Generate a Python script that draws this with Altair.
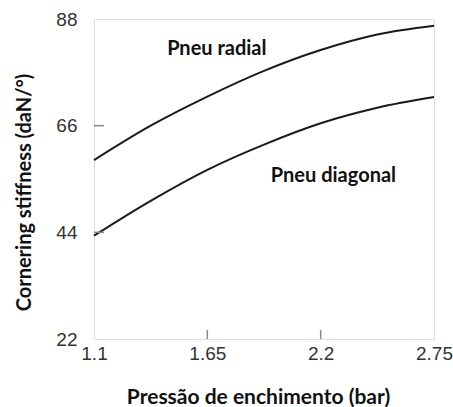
import altair as alt
import pandas as pd

# Inflation pressure (bar) and cornering stiffness (daN/°) for each tyre type
pressure = [1.1, 1.375, 1.65, 1.925, 2.2, 2.475, 2.75]
radial = [58.9, 66.0, 72.0, 77.3, 81.6, 84.8, 86.6]
diagonal = [43.3, 50.5, 56.9, 62.1, 66.5, 69.7, 71.9]

x_ticks = [1.1, 1.65, 2.2, 2.75]
y_ticks = [22, 44, 66, 88]

series_labels = ["Pneu radial", "Pneu diagonal"]
label_x = [1.696, 2.262]
label_y = [81.8, 55.7]

rows = []
for p, r, d in zip(pressure, radial, diagonal):
    rows.append({"p": p, "v": r, "tipo": "radial"})
    rows.append({"p": p, "v": d, "tipo": "diagonal"})
df = pd.DataFrame(rows)

xs = alt.Scale(domain=[1.1, 2.75], nice=False, zero=False)
ys = alt.Scale(domain=[22, 88], nice=False, zero=False)

lines = alt.Chart(df).mark_line(
    color="#1a1a1a", strokeWidth=2, interpolate="monotone"
).encode(
    x=alt.X("p:Q", scale=xs, axis=alt.Axis(
        values=x_ticks, format=".2~f", title="Pressão de enchimento (bar)",
        domain=False, grid=False, ticks=False, tickSize=0, labelPadding=5,
        labelFlush=False, labelOverlap=False,
        labelFont="Liberation Sans", labelFontSize=19, labelColor="#333333",
        titleFont="Lato", titleFontWeight="bold", titleFontSize=21, titleColor="#111111",
        titleX=164, titleY=64, titleBaseline="alphabetic",
    )),
    y=alt.Y("v:Q", scale=ys, axis=alt.Axis(
        values=y_ticks, title="Cornering stiffness (daN/°)",
        domain=False, grid=False, ticks=False, tickSize=0, labelPadding=17,
        labelFlush=False, labelOverlap=False,
        labelFont="Liberation Sans", labelFontSize=19, labelColor="#333333",
        titleFont="Lato", titleFontWeight="bold", titleFontSize=20, titleColor="#111111",
        titleX=-64, titleY=173, titleAngle=-90, titleBaseline="alphabetic",
    )),
    detail="tipo:N",
)

# inward tick marks on the left and bottom edges
yt = alt.Chart(pd.DataFrame({"v": y_ticks[1:-1]})).mark_rule(
    color="#888888", strokeWidth=1.5
).encode(y=alt.Y("v:Q", scale=ys), x=alt.value(0), x2=alt.value(10))

xt = alt.Chart(pd.DataFrame({"p": x_ticks[1:-1]})).mark_rule(
    color="#888888", strokeWidth=1.5
).encode(x=alt.X("p:Q", scale=xs), y=alt.value(320), y2=alt.value(311))

labels = alt.Chart(pd.DataFrame({"p": label_x, "v": label_y, "t": series_labels})).mark_text(
    font="Lato", fontWeight="bold", fontSize=20, color="#111111"
).encode(x=alt.X("p:Q", scale=xs), y=alt.Y("v:Q", scale=ys), text="t:N")

chart = alt.layer(lines, yt, xt, labels).properties(
    width=340, height=320,
    autosize=alt.AutoSizeParams(type="none"),
    padding={"left": 94, "top": 19, "right": 19, "bottom": 68},
).configure_view(stroke="#888888", strokeWidth=1.5).configure(background="white")

chart.save("out.html", embed_options={"renderer": "svg", "actions": False})
